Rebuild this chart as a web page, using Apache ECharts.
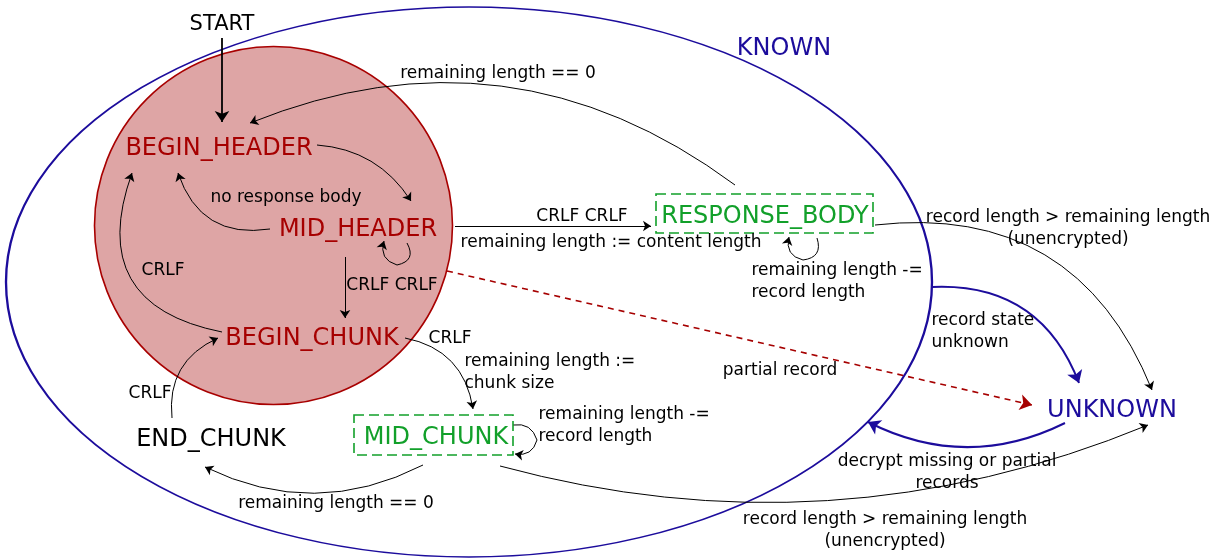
<!DOCTYPE html>
<html>
<head>
<meta charset="UTF-8">
<title>record state machine</title>
<script src="https://cdn.jsdelivr.net/npm/echarts@6/dist/echarts.min.js"></script>
<style>
  html, body { margin: 0; padding: 0; background: #fff; }
  #main { width: 1225px; height: 558px; }
</style>
</head>
<body>
<div id="main"></div>
<script>
// states (positions in the 1225 x 558 frame, y down)
var stateNames = ['START', 'BEGIN_HEADER', 'MID_HEADER', 'BEGIN_CHUNK', 'END_CHUNK',
                  'RESPONSE_BODY', 'MID_CHUNK', 'UNKNOWN', 'KNOWN'];
var statePos = [[222, 22], [219, 146], [358, 227], [312, 336], [211, 437],
                [765, 214], [436, 435], [1112, 408], [784, 46]];
var stateKind = ['start', 'header', 'header', 'header', 'plain',
                 'body', 'body', 'blue', 'blue'];

// boxed states (dashed frames)
var boxCenter = [[764.5, 213.5], [433.5, 435]];

// transitions: [from, to, curveness]; self loops are split in two halves
var thinEdges = [
  [[735, 185], [250, 123], -0.28],   // remaining length == 0
  [[317, 145], [411, 201], 0.25],    // header -> mid header
  [[270, 229], [178, 173], 0.42],    // no response body
  [[455, 226], [651, 226], 0],       // CRLF CRLF -> body
  [[345, 257], [345, 318], 0],       // CRLF CRLF -> chunk
  [[222, 332], [132, 173], 0.58],    // CRLF back to header
  [[172, 418], [218, 338], 0.36],    // end chunk -> begin chunk
  [[405, 338], [473, 409], 0.35],    // chunk size
  [[423, 465], [205, 467], 0.25],    // remaining length == 0
  [[500, 466], [1148, 425], -0.17],  // mid chunk -> unknown
  [[875, 225], [1152, 390], 0.38]    // body -> unknown
];
var loopFirstHalf = [
  [[407, 243], [397, 265], 0.67],
  [[817, 238], [803, 260], 0.6],
  [[513, 425], [537, 440], 0.43]
];
var loopSecondHalf = [
  [[397, 265], [384, 241], 0.5],
  [[803, 260], [789, 237], 0.5],
  [[537, 440], [515, 454], 0.45]
];
var startEdges = [[[222, 38], [222, 122], 0]];
var blueEdges = [
  [[932, 287], [1079, 383], 0.36],   // record state unknown
  [[1065, 423], [868, 422], 0.25]    // decrypt missing or partial records
];
var dashedEdges = [[[447, 271], [1032, 405], 0]];

// edge labels: centred ones and left-aligned ones
var midLabels = [
  ['remaining length == 0', [498, 72]],
  ['no response body', [286, 196]],
  ['CRLF CRLF', [582, 215]],
  ['remaining length := content length', [611, 241]],
  ['record length > remaining length\n(unencrypted)', [1068, 227]],
  ['CRLF', [163, 269]],
  ['CRLF CRLF', [392, 284]],
  ['CRLF', [450, 337]],
  ['CRLF', [150, 392]],
  ['partial record', [780, 369]],
  ['decrypt missing or partial\nrecords', [947, 471]],
  ['remaining length == 0', [336, 502]],
  ['record length > remaining length\n(unencrypted)', [885, 529]]
];
var leftLabels = [
  ['remaining length -=\nrecord length', [751, 280]],
  ['record state\nunknown', [931, 330]],
  ['remaining length :=\nchunk size', [464, 371]],
  ['remaining length -=\nrecord length', [538, 424]]
];

var RED = '#a60000', BLUE = '#1c0c9c', GREEN = '#12a02a';
var kindColor = { start: '#000', plain: '#000', header: RED, body: GREEN, blue: BLUE };

function toLines(list) {
  return list.map(function (e) {
    return { coords: [e[0], e[1]], lineStyle: { curveness: e[2] } };
  });
}

var chart = echarts.init(document.getElementById('main'));
var font = 'DejaVu Sans';
var hidden = { color: 'rgba(0,0,0,0)', opacity: 1 };

var option = {
  animation: false,
  grid: { left: 0, right: 0, top: 0, bottom: 0 },
  xAxis: { type: 'value', min: 0, max: 1225, show: false },
  yAxis: { type: 'value', min: 0, max: 558, inverse: true, show: false },
  series: [
    {
      type: 'lines', coordinateSystem: 'cartesian2d', z: 3,
      symbol: ['none', 'arrow'], symbolSize: 8,
      lineStyle: { color: '#000', width: 1, opacity: 1 },
      data: toLines(thinEdges)
    },
    {
      type: 'lines', coordinateSystem: 'cartesian2d', z: 3,
      symbol: ['none', 'none'],
      lineStyle: { color: '#000', width: 1, opacity: 1 },
      data: toLines(loopFirstHalf)
    },
    {
      type: 'lines', coordinateSystem: 'cartesian2d', z: 3,
      symbol: ['none', 'arrow'], symbolSize: 8,
      lineStyle: { color: '#000', width: 1, opacity: 1 },
      data: toLines(loopSecondHalf)
    },
    {
      type: 'lines', coordinateSystem: 'cartesian2d', z: 3,
      symbol: ['none', 'arrow'], symbolSize: 11,
      lineStyle: { color: '#000', width: 1.8, opacity: 1 },
      data: toLines(startEdges)
    },
    {
      type: 'lines', coordinateSystem: 'cartesian2d', z: 3,
      symbol: ['none', 'arrow'], symbolSize: 12,
      lineStyle: { color: BLUE, width: 2, opacity: 1 },
      data: toLines(blueEdges)
    },
    {
      type: 'lines', coordinateSystem: 'cartesian2d', z: 3,
      symbol: ['none', 'arrow'], symbolSize: 12,
      lineStyle: { color: RED, width: 1.6, type: [6, 5], opacity: 1 },
      data: toLines(dashedEdges)
    },
    {
      type: 'scatter', z: 5, symbolSize: 1, silent: true,
      itemStyle: hidden,
      label: { show: true, position: 'inside', formatter: '{b}', fontFamily: font,
               fontSize: 24, offset: [0, 3] },
      data: stateNames.map(function (n, i) {
        return {
          name: n, value: statePos[i],
          label: { color: kindColor[stateKind[i]], fontSize: stateKind[i] === 'start' ? 21 : 24 }
        };
      })
    },
    {
      type: 'scatter', z: 5, symbolSize: 1, silent: true,
      itemStyle: hidden,
      label: { show: true, position: 'inside', formatter: '{b}', fontFamily: font,
               fontSize: 17, lineHeight: 22, color: '#000', align: 'center', offset: [0, 2] },
      data: midLabels.map(function (l) { return { name: l[0], value: l[1] }; })
    },
    {
      type: 'scatter', z: 5, symbolSize: 1, silent: true,
      itemStyle: hidden,
      label: { show: true, position: 'right', distance: 0, formatter: '{b}', fontFamily: font,
               fontSize: 17, lineHeight: 22, color: '#000', align: 'left', offset: [0, 2] },
      data: leftLabels.map(function (l) { return { name: l[0], value: l[1] }; })
    }
  ]
};
chart.setOption(option);

// KNOWN ellipse, the header circle and the dashed boxes, placed through the same axes
var known = { c: [469, 282], rx: 463, ry: 275 };
var header = { c: [273.5, 225.5], r: 179 };
var boxSize = [[217, 39], [159, 40]];
var kc = chart.convertToPixel({ gridIndex: 0 }, known.c);
var hc = chart.convertToPixel({ gridIndex: 0 }, header.c);
var graphics = [
  {
    type: 'circle', z: 0, silent: true, x: hc[0], y: hc[1],
    shape: { cx: 0, cy: 0, r: header.r },
    style: { fill: '#dea5a5', stroke: '#a80000', lineWidth: 1.6 }
  },
  {
    type: 'circle', z: 1, silent: true, x: kc[0], y: kc[1],
    scaleX: known.rx / 100, scaleY: known.ry / 100,
    shape: { cx: 0, cy: 0, r: 100 },
    style: { fill: 'none', stroke: BLUE, lineWidth: 1.8, strokeNoScale: true }
  }
];
boxCenter.forEach(function (c, i) {
  var p = chart.convertToPixel({ gridIndex: 0 }, c);
  graphics.push({
    type: 'rect', z: 4, silent: true,
    shape: { x: p[0] - boxSize[i][0] / 2, y: p[1] - boxSize[i][1] / 2,
             width: boxSize[i][0], height: boxSize[i][1] },
    style: { fill: 'none', stroke: GREEN, lineWidth: 1.6, lineDash: [10, 5] }
  });
});
chart.setOption({ graphic: graphics });
</script>
</body>
</html>
